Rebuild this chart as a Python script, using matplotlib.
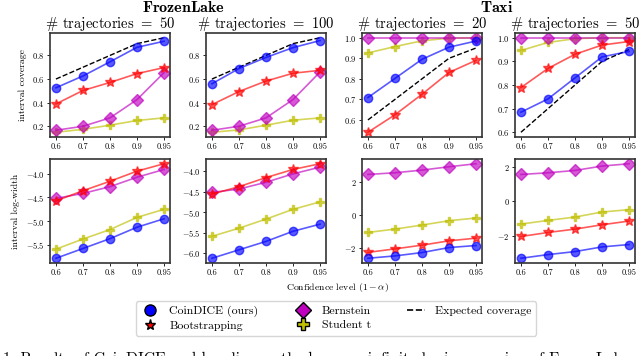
import numpy as np
import matplotlib
matplotlib.use('Agg')
import matplotlib.pyplot as plt
from matplotlib.lines import Line2D

plt.rcParams['font.family'] = 'serif'
plt.rcParams['font.serif'] = ['cmr10', 'DejaVu Serif']
plt.rcParams['mathtext.fontset'] = 'cm'
plt.rcParams['axes.formatter.use_mathtext'] = True

# 数据
levels = ['0.6', '0.7', '0.8', '0.9', '0.95']
expected = [0.6, 0.7, 0.8, 0.9, 0.95]

# coverage（上排）
cov_coindice = [
    [0.526, 0.626, 0.746, 0.869, 0.92],
    [0.56, 0.689, 0.783, 0.866, 0.926],
    [0.709, 0.802, 0.895, 0.954, 0.984],
    [0.685, 0.741, 0.83, 0.919, 0.942],
]
cov_boot = [
    [0.389, 0.503, 0.571, 0.646, 0.697],
    [0.383, 0.494, 0.583, 0.649, 0.674],
    [0.54, 0.625, 0.725, 0.831, 0.89],
    [0.789, 0.87, 0.93, 0.969, 0.984],
]
cov_bern = [
    [0.166, 0.2, 0.271, 0.426, 0.654],
    [0.166, 0.2, 0.271, 0.426, 0.66],
    [1.0, 1.0, 1.0, 1.0, 1.0],
    [1.0, 1.0, 1.0, 1.0, 1.0],
]
cov_student = [
    [0.149, 0.174, 0.209, 0.249, 0.271],
    [0.149, 0.169, 0.209, 0.251, 0.271],
    [0.926, 0.957, 0.985, 0.998, 1.0],
    [0.946, 0.98, 0.996, 1.0, 1.0],
]

# log-width（下排）
lw_coindice = [
    [-5.786, -5.579, -5.371, -5.129, -4.95],
    [-6.124, -5.917, -5.711, -5.463, -5.289],
    [-2.6, -2.457, -2.254, -1.95, -1.827],
    [-3.3, -3.087, -2.913, -2.641, -2.505],
]
lw_boot = [
    [-4.571, -4.357, -4.157, -3.943, -3.786],
    [-4.554, -4.372, -4.149, -3.95, -3.81],
    [-2.244, -2.03, -1.807, -1.543, -1.381],
    [-2.039, -1.806, -1.612, -1.359, -1.146],
]
lw_bern = [
    [-4.52, -4.414, -4.271, -4.071, -3.907],
    [-4.512, -4.43, -4.264, -4.058, -3.893],
    [2.477, 2.579, 2.741, 2.944, 3.127],
    [1.553, 1.65, 1.786, 2.039, 2.175],
]
lw_student = [
    [-5.593, -5.379, -5.179, -4.921, -4.75],
    [-5.587, -5.388, -5.165, -4.926, -4.744],
    [-1.036, -0.832, -0.589, -0.325, -0.162],
    [-1.32, -1.107, -0.913, -0.621, -0.485],
]

n_traj = [50, 100, 20, 50]

colors = {'coindice': 'b', 'boot': 'r', 'bern': 'm', 'student': 'y'}
markers = {'coindice': 'o', 'boot': '*', 'bern': 'D', 'student': 'P'}

W, H = 640, 356
fig = plt.figure(figsize=(W / 100, H / 100), dpi=100)

lefts = [50, 206, 362, 515]
aw, ah = 120, 104
tops = [33, 159]

x = np.arange(len(levels))


def draw(ax, series):
    for key, vals in series:
        ax.plot(x, vals, color=colors[key], marker=markers[key], alpha=0.65,
                lw=1.2, ms=6 if key != 'boot' else 7, mew=1.0)


def style(ax):
    ax.set_xticks(x)
    ax.set_xticklabels(levels)
    ax.set_xlim(-0.22, 4.22)
    ax.tick_params(labelsize=6, length=2, width=0.6, pad=2)
    for s in ax.spines.values():
        s.set_color('#333333')
        s.set_linewidth(1.2)


for j in range(4):
    ax = fig.add_axes([lefts[j] / W, 1 - (tops[0] + ah) / H, aw / W, ah / H])
    ax.plot(x, expected, color='k', ls='--', lw=1.0)
    draw(ax, [('student', cov_student[j]), ('bern', cov_bern[j]),
              ('boot', cov_boot[j]), ('coindice', cov_coindice[j])])
    style(ax)
    ax.set_title(r'$\#$ trajectories $=$ ' + str(n_traj[j]), fontsize=10.5, pad=3)
    if j == 0:
        ax.set_ylabel('interval coverage', fontsize=7)

    ax2 = fig.add_axes([lefts[j] / W, 1 - (tops[1] + ah) / H, aw / W, ah / H])
    draw(ax2, [('student', lw_student[j]), ('bern', lw_bern[j]),
               ('boot', lw_boot[j]), ('coindice', lw_coindice[j])])
    style(ax2)
    if j == 0:
        ax2.set_ylabel('interval log-width', fontsize=7)

fig.text(184 / W, 1 - 12 / H, r'$\mathbf{FrozenLake}$', fontsize=11.5, ha='center', va='baseline')
fig.text(497 / W, 1 - 12 / H, r'$\mathbf{Taxi}$', fontsize=11.5, ha='center', va='baseline')

fig.text(337 / W, 1 - 290 / H, r'Confidence level $(1-\alpha)$', fontsize=7, ha='center', va='baseline')

handles = [
    Line2D([], [], ls='none', marker='o', mfc='b', mec='k', ms=8, label='CoinDICE (ours)'),
    Line2D([], [], ls='none', marker='*', mfc='r', mec='k', ms=8, label='Bootstrapping'),
    Line2D([], [], ls='none', marker='D', mfc='m', mec='k', ms=8, label='Bernstein'),
    Line2D([], [], ls='none', marker='P', mfc='y', mec='k', ms=8, label='Student t'),
    Line2D([], [], color='k', ls='--', lw=1.2, label='Expected coverage'),
]
fig.legend(handles=handles, ncol=3, loc='center', bbox_to_anchor=(336 / W, 1 - 318.5 / H),
           fontsize=8.5, frameon=True, handlelength=1.6, columnspacing=3.0,
           borderpad=0.4, labelspacing=0.3, fancybox=True, edgecolor='#cccccc')

fig.text(0.004, -0.02,
         '1: Results of CoinDICE and baseline methods on an infinite-horizon version of FrozenLake and Taxi.',
         fontsize=11.3, ha='left', va='baseline')

fig.savefig('out.png', dpi=100)
